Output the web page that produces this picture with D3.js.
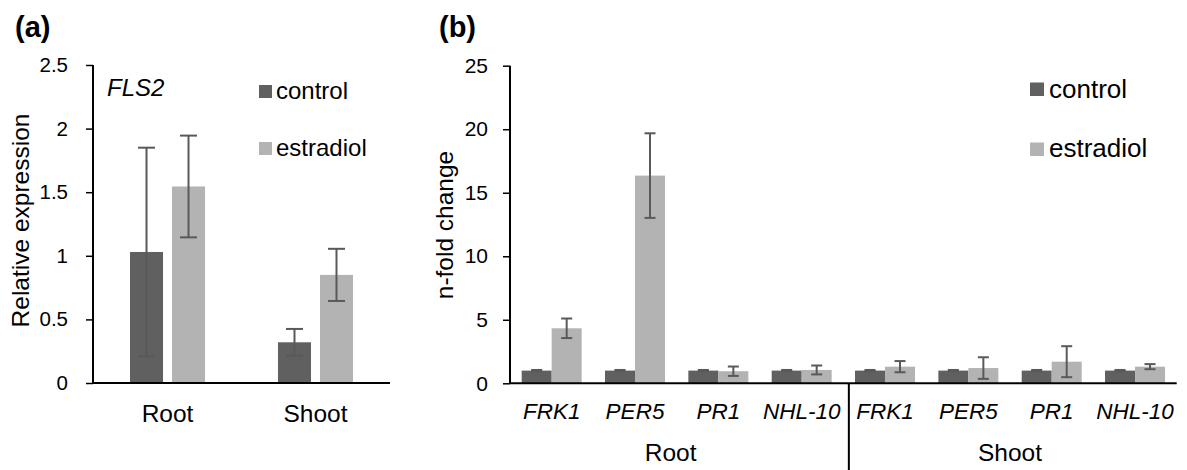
<!DOCTYPE html>
<html>
<head>
<meta charset="utf-8">
<script src="https://cdn.jsdelivr.net/npm/d3@7"></script>
<style>
  html, body { margin: 0; padding: 0; background: #fff; }
  svg { display: block; }
  text { font-family: "Liberation Sans", Arial, sans-serif; fill: #000; }
</style>
</head>
<body>
<svg id="chart" width="1187" height="470"></svg>
<script>
// ---------- Panel (a) data ----------
const aCategories = ["Root", "Shoot"];
const aControl = [1.03, 0.32];
const aControlErr = [0.82, 0.105];
const aEstradiol = [1.545, 0.85];
const aEstradiolErr = [0.40, 0.205];
const aTicks = [0, 0.5, 1, 1.5, 2, 2.5];
const aTickLabels = ["0", "0.5", "1", "1.5", "2", "2.5"];

// ---------- Panel (b) data ----------
const bGenes = ["FRK1", "PER5", "PR1", "NHL-10", "FRK1", "PER5", "PR1", "NHL-10"];
const bTissue = ["Root", "Root", "Root", "Root", "Shoot", "Shoot", "Shoot", "Shoot"];
const bControl = [1, 1, 1, 1, 1, 1, 1, 1];
const bControlErr = [0.05, 0.05, 0.05, 0.05, 0.05, 0.05, 0.05, 0.05];
const bEstradiol = [4.33, 16.35, 0.95, 1.05, 1.31, 1.2, 1.7, 1.31];
const bEstradiolErr = [0.77, 3.33, 0.37, 0.35, 0.44, 0.85, 1.22, 0.2];
const bTicks = [0, 5, 10, 15, 20, 25];
const bTissues = ["Root", "Shoot"];

const series = ["control", "estradiol"];
const colors = { control: "#606060", estradiol: "#b3b3b3" };
const errColor = "#595959";

const svg = d3.select("#chart");

// =============== Panel (a) =================
{
  const xA = d3.scaleBand().domain(aCategories).range([93, 390]).paddingInner(0.493).paddingOuter(0.25);
  const xSub = d3.scaleBand().domain(series).range([0, xA.bandwidth()]).paddingInner(0.214);
  const yA = d3.scaleLinear().domain([0, 2.5]).range([383, 65]);

  const rows = aCategories.map((c, i) => ({
    cat: c,
    vals: [
      { s: "control", v: aControl[i], e: aControlErr[i] },
      { s: "estradiol", v: aEstradiol[i], e: aEstradiolErr[i] }
    ]
  }));

  const g = svg.append("g");
  const groups = g.selectAll("g.grp").data(rows).join("g")
    .attr("transform", d => `translate(${xA(d.cat)},0)`);
  groups.selectAll("rect").data(d => d.vals).join("rect")
    .attr("x", d => xSub(d.s))
    .attr("y", d => yA(d.v))
    .attr("width", xSub.bandwidth())
    .attr("height", d => yA(0) - yA(d.v))
    .attr("fill", d => colors[d.s]);
  const cap = 8.5;
  groups.selectAll("g.err").data(d => d.vals).join("g").each(function(d) {
    const cx = xSub(d.s) + xSub.bandwidth() / 2;
    const el = d3.select(this);
    el.append("line").attr("x1", cx).attr("x2", cx).attr("y1", yA(d.v + d.e)).attr("y2", yA(d.v - d.e));
    el.append("line").attr("x1", cx - cap).attr("x2", cx + cap).attr("y1", yA(d.v + d.e)).attr("y2", yA(d.v + d.e));
    el.append("line").attr("x1", cx - cap).attr("x2", cx + cap).attr("y1", yA(d.v - d.e)).attr("y2", yA(d.v - d.e));
  }).attr("stroke", errColor).attr("stroke-width", 2);

  const yAxis = d3.axisLeft(yA).tickValues(aTicks).tickFormat((d, i) => aTickLabels[i]).tickSize(7).tickPadding(18);
  const ya = g.append("g").attr("transform", "translate(93,0)").call(yAxis);
  ya.select(".domain").attr("stroke", "#000").attr("stroke-width", 2).attr("d", `M0,${yA(2.5)}V${yA(0)}`);
  ya.selectAll(".tick line").attr("stroke", "#000").attr("stroke-width", 1.5);
  ya.selectAll(".tick text").attr("font-size", 20.5).attr("font-family", "Liberation Sans, Arial, sans-serif").attr("fill", "#000");

  const xAxis = d3.axisBottom(xA).tickSize(0).tickPadding(22);
  const xa = g.append("g").attr("transform", `translate(0,${yA(0)})`).call(xAxis);
  xa.select(".domain").attr("stroke", "#000").attr("stroke-width", 2).attr("d", "M93,0H390");
  xa.selectAll(".tick text").attr("font-size", 24.5).attr("font-family", "Liberation Sans, Arial, sans-serif").attr("fill", "#000")
    .attr("dy", "0.71em");

  g.append("text").attr("transform", "translate(29,220.5) rotate(-90)")
    .attr("text-anchor", "middle").attr("font-size", 24.5).text("Relative expression");

  g.append("text").attr("x", 107).attr("y", 96).attr("font-size", 24).attr("font-style", "italic").text("FLS2");

  const legA = g.append("g");
  series.forEach((s, i) => {
    legA.append("rect").attr("x", 259).attr("y", 85 + i * 57).attr("width", 13).attr("height", 13).attr("fill", colors[s]);
    legA.append("text").attr("x", 276).attr("y", 99 + i * 56.5).attr("font-size", 24).text(s);
  });

  g.append("text").attr("x", 15).attr("y", 37).attr("font-size", 29).attr("font-weight", "bold")
    .attr("font-family", "Open Sans, sans-serif").text("(a)");
}

// =============== Panel (b) =================
{
  const idx = bGenes.map((_, i) => i);
  const xB = d3.scaleBand().domain(idx).range([510, 1176.7]).paddingInner(0.28).paddingOuter(0.14);
  const xSub = d3.scaleBand().domain(series).range([0, xB.bandwidth()]).padding(0);
  const yB = d3.scaleLinear().domain([0, 25]).range([383.3, 65.7]);

  const rows = idx.map(i => ({
    i,
    vals: [
      { s: "control", v: bControl[i], e: bControlErr[i] },
      { s: "estradiol", v: bEstradiol[i], e: bEstradiolErr[i] }
    ]
  }));

  const g = svg.append("g");
  const groups = g.selectAll("g.grp").data(rows).join("g")
    .attr("transform", d => `translate(${xB(d.i)},0)`);
  groups.selectAll("rect").data(d => d.vals).join("rect")
    .attr("x", d => xSub(d.s))
    .attr("y", d => yB(d.v))
    .attr("width", xSub.bandwidth())
    .attr("height", d => yB(0) - yB(d.v))
    .attr("fill", d => colors[d.s]);
  const cap = 5.5;
  groups.selectAll("g.err").data(d => d.vals).join("g").each(function(d) {
    const cx = xSub(d.s) + xSub.bandwidth() / 2;
    const el = d3.select(this);
    el.append("line").attr("x1", cx).attr("x2", cx).attr("y1", yB(d.v + d.e)).attr("y2", yB(d.v - d.e));
    el.append("line").attr("x1", cx - cap).attr("x2", cx + cap).attr("y1", yB(d.v + d.e)).attr("y2", yB(d.v + d.e));
    el.append("line").attr("x1", cx - cap).attr("x2", cx + cap).attr("y1", yB(d.v - d.e)).attr("y2", yB(d.v - d.e));
  }).attr("stroke", errColor).attr("stroke-width", 2);

  const yAxis = d3.axisLeft(yB).tickValues(bTicks).tickSize(7).tickPadding(15);
  const ya = g.append("g").attr("transform", "translate(510,0)").call(yAxis);
  ya.select(".domain").attr("stroke", "#000").attr("stroke-width", 2).attr("d", `M0,${yB(25)}V${yB(0)}`);
  ya.selectAll(".tick line").attr("stroke", "#000").attr("stroke-width", 1.5);
  ya.selectAll(".tick text").attr("font-size", 21).attr("font-family", "Liberation Sans, Arial, sans-serif").attr("fill", "#000");

  const xAxis = d3.axisBottom(xB).tickSize(0).tickPadding(20).tickFormat(i => bGenes[i]);
  const xa = g.append("g").attr("transform", `translate(0,${yB(0)})`).call(xAxis);
  xa.select(".domain").attr("stroke", "#000").attr("stroke-width", 2).attr("d", "M510,0H1176.7");
  xa.selectAll(".tick text").attr("font-size", 22.5).attr("font-style", "italic")
    .attr("font-family", "Liberation Sans, Arial, sans-serif").attr("fill", "#000").attr("dy", "0.71em");

  const step = xB.step();
  const divX = xB(4) - step * xB.paddingInner() / 2 + 5.5;
  g.append("line").attr("x1", divX).attr("x2", divX).attr("y1", yB(0)).attr("y2", 470)
    .attr("stroke", "#000").attr("stroke-width", 2);

  bTissues.forEach(t => {
    const members = idx.filter(i => bTissue[i] === t);
    const cx = d3.mean(members, i => xB(i) + xB.bandwidth() / 2);
    g.append("text").attr("x", cx - (t === "Root" ? 6 : 0)).attr("y", 461).attr("text-anchor", "middle")
      .attr("font-size", 24.5).text(t);
  });

  g.append("text").attr("transform", "translate(453,225) rotate(-90)")
    .attr("text-anchor", "middle").attr("font-size", 24.5).text("n-fold change");

  const legB = g.append("g");
  series.forEach((s, i) => {
    legB.append("rect").attr("x", 1030).attr("y", 82.5 + i * 60).attr("width", 14).attr("height", 13.5).attr("fill", colors[s]);
    legB.append("text").attr("x", 1049).attr("y", 98 + i * 58.5).attr("font-size", 26).text(s);
  });

  g.append("text").attr("x", 439).attr("y", 37).attr("font-size", 29).attr("font-weight", "bold")
    .attr("font-family", "Open Sans, sans-serif").text("(b)");
}
</script>
</body>
</html>
